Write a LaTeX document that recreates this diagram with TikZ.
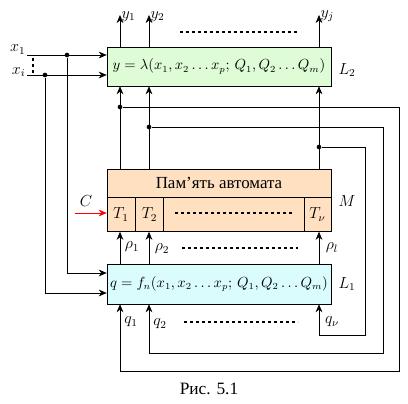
\documentclass[tikz,border=0pt]{standalone}
\usepackage{fontspec}
\setmainfont{Liberation Serif}
\usepackage{amsmath}
\usepackage{tikz}
\usetikzlibrary{arrows.meta,positioning,calc}
\definecolor{greenfill}{RGB}{222,252,214}
\definecolor{memfill}{RGB}{255,224,192}
\definecolor{cyanfill}{RGB}{218,252,252}
\tikzset{
  blk/.style = {draw, minimum width = 168pt, inner sep = 0pt},
  sig/.style = {-{Stealth[length = 6pt, width = 5pt]}},
  dots/.style = {line width = 2.2pt, dash pattern = on 2.2pt off 2.3pt},
  jdot/.style = {circle, fill, inner sep = 0pt, minimum size = 3.5pt}
}

\begin{document}
\begin{tikzpicture}[x = 0.75pt, y = -0.75pt, font = \fontsize{12}{14}\selectfont]
\useasboundingbox (0,0) rectangle (408,404);
% columns and rows
\coordinate (c1) at (120,0);
\coordinate (c2) at (149,0);
\coordinate (cj) at (319,0);
\coordinate (r1) at (0,273);
\coordinate (r2) at (0,293);
% blocks
\node[blk, fill = greenfill, minimum height = 29.25pt, font = \fontsize{10.5}{12}\selectfont] (L2) at (219,66.5)
  {$y = \lambda(x_1, x_2 \ldots x_p;\, Q_1, Q_2 \ldots Q_m)$};
\node[blk, fill = memfill, minimum height = 21pt] (Mt) at (219,183)
  {\fontsize{12.7}{14}\selectfont Пам’ять автомата};
\node[blk, fill = memfill, minimum height = 25.5pt, anchor = north] (Mb) at (Mt.south) {};
\node[draw, minimum width = 21pt, minimum height = 25.5pt, anchor = north west] (T1) at (Mb.north west) {$T_1$};
\node[draw, minimum width = 21pt, minimum height = 25.5pt, anchor = north west] (T2) at (T1.north east) {$T_2$};
\node[draw, minimum width = 20.25pt, minimum height = 25.5pt, anchor = north east] (Tn) at (Mb.north east) {$T_\nu$};
\node[blk, fill = cyanfill, minimum height = 30pt, font = \fontsize{10.5}{12}\selectfont] (L1) at (219,284)
  {$q = f_n(x_1, x_2 \ldots x_p;\, Q_1, Q_2 \ldots Q_m)$};
\node (nL2) at (347,70) {$L_2$};
\node (nM) at (347,201) {$M$};
\node (nL1) at (347,284) {$L_1$};
% inputs x
\coordinate (x1) at (27,55);
\coordinate (xi) at (27,75);
\node[anchor = east, inner sep = 1pt] (lx1) at (x1) [yshift = 4pt] {$x_1$};
\node[anchor = east, inner sep = 1pt] (lxi) at (xi) [yshift = 2pt] {$x_i$};
\draw[dots] (33,58) -- (33,73);
\node[jdot] (d1) at (67,55) {};
\node[jdot] (d2) at (45,75) {};
\draw[sig] (x1) -- (x1 -| L2.west);
\draw[sig] (xi) -- (xi -| L2.west);
\draw[sig] (d1) |- (L1.west |- r1);
\draw[sig] (d2) |- (L1.west |- r2);
% outputs y
\coordinate (y1) at (120,15);
\coordinate (y2) at (149,15);
\coordinate (yj) at (319,15);
\draw[sig] (L2.north -| c1) -- (y1);
\draw[sig] (L2.north -| c2) -- (y2);
\draw[sig] (L2.north -| cj) -- (yj);
\node[anchor = west, inner sep = 1pt] at (y1) [yshift = -1pt] {$y_1$};
\node[anchor = west, inner sep = 1pt] at (y2) [yshift = -1pt] {$y_2$};
\node[anchor = west, inner sep = 1pt] at (yj) [yshift = -1pt] {$y_j$};
\draw[dots] (180,32) -- (297,32);
% memory to L2
\draw[sig] (Mt.north -| c1) -- (L2.south -| c1);
\draw[sig] (Mt.north -| c2) -- (L2.south -| c2);
\draw[sig] (Mt.north -| cj) -- (L2.south -| cj);
% clock
\coordinate (cin) at (75,213);
\draw[sig, red] (cin) -- (T1.west |- cin);
\node (lC) at (86,201) {$C$};
\draw[dots] (175,213) -- (293,213);
% L1 to memory
\draw[sig] (L1.north -| c1) -- (Mb.south -| c1);
\draw[sig] (L1.north -| c2) -- (Mb.south -| c2);
\draw[sig] (L1.north -| cj) -- (Mb.south -| cj);
\node at (132,247) {$\rho_1$};
\node at (162,249) {$\rho_2$};
\node at (332,248) {$\rho_l$};
\draw[dots] (182,248) -- (298,248);
% feedback q
\node[jdot] (j1) at (120,107) {};
\node[jdot] (j2) at (149,127) {};
\node[jdot] (jn) at (319,147) {};
\coordinate (o1) at (399,371);
\coordinate (o2) at (383,353);
\coordinate (on) at (365,335);
\draw[sig] (j1) -| (o1) -| (L1.south -| c1);
\draw[sig] (j2) -| (o2) -| (L1.south -| c2);
\draw[sig] (jn) -| (on) -| (L1.south -| cj);
\node at (131,322) {$q_1$};
\node at (160,324) {$q_2$};
\node at (332,322) {$q_\nu$};
\draw[dots] (184,322) -- (298,322);
% caption
\node (cap) at (209,389) {\fontsize{13}{15}\selectfont Рис. 5.1};
\end{tikzpicture}
\end{document}
